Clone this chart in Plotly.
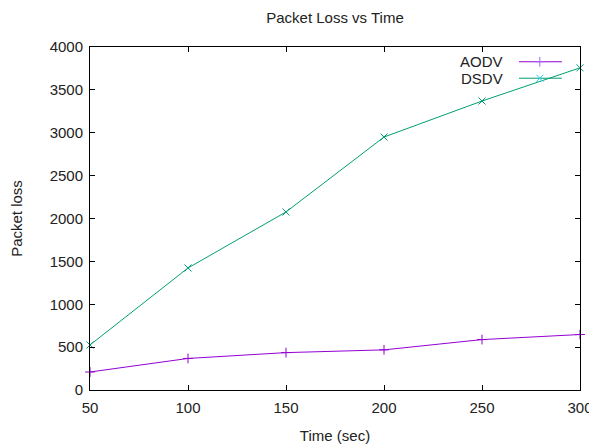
import plotly.graph_objects as go

time_sec = [50, 100, 150, 200, 250, 300]
aodv_loss = [210, 368, 436, 468, 588, 647]
dsdv_loss = [525, 1423, 2076, 2950, 3370, 3757]
x_ticks = [50, 100, 150, 200, 250, 300]
y_ticks = [0, 500, 1000, 1500, 2000, 2500, 3000, 3500, 4000]
series_names = ["AODV", "DSDV"]
series_colors = ["#9400d3", "#009e73"]
series_symbols = ["cross-thin-open", "x-thin-open"]

font = dict(family="Liberation Sans, Arial, sans-serif", size=15, color="#222")

fig = go.Figure()
for name, vals, col, sym in zip(series_names, [aodv_loss, dsdv_loss], series_colors, series_symbols):
    fig.add_trace(go.Scatter(
        x=time_sec, y=vals, mode="lines+markers", name=name,
        line=dict(color=col, width=1),
        marker=dict(symbol=sym, size=7, line=dict(color=col, width=1)),
        showlegend=False, cliponaxis=False,
    ))

# manual gnuplot-style key (text left, sample right) on an overlay axis
key_y = [0.957, 0.909]
for i, (name, col, sym) in enumerate(zip(series_names, series_colors, series_symbols)):
    fig.add_trace(go.Scatter(
        x=[0.8755, 0.963], y=[key_y[i]] * 2, mode="lines", xaxis="x2", yaxis="y2",
        line=dict(color=col, width=1), showlegend=False, hoverinfo="skip"))
    fig.add_trace(go.Scatter(
        x=[0.918], y=[key_y[i]], mode="markers", xaxis="x2", yaxis="y2",
        marker=dict(symbol=sym, size=7, line=dict(color=col, width=1)),
        showlegend=False, hoverinfo="skip"))
    fig.add_annotation(x=0.847, y=key_y[i], xref="x2 domain", yref="y2 domain",
                       text=name, showarrow=False, xanchor="right", yanchor="middle",
                       font=dict(family=font["family"], size=15, color="#222"))

axis_common = dict(showline=True, linecolor="black", linewidth=1, mirror="ticks",
                   ticks="inside", ticklen=5, tickcolor="black", showgrid=False,
                   zeroline=False, tickfont=font, automargin=False)

# page body has an 8px default margin, so margins are offset by 8px
fig.update_layout(
    width=597, height=444,
    margin=dict(l=82, r=25, t=39, b=62),
    paper_bgcolor="white", plot_bgcolor="white",
    font=font,
    title=dict(text="Packet Loss vs Time", x=(82 + 572) / 2 / 597, xanchor="center",
               y=0.977, yanchor="middle",
               font=dict(family=font["family"], size=15, color="#222")),
    xaxis=dict(range=[50, 300], tickvals=x_ticks, ticklabelstandoff=4,
               title=dict(text="Time (sec)", font=font, standoff=15), **axis_common),
    yaxis=dict(range=[0, 4000], tickvals=y_ticks, ticklabelstandoff=3,
               title=dict(text="Packet loss", font=font, standoff=33), **axis_common),
    xaxis2=dict(range=[0, 1], overlaying="x", visible=False, anchor="y2"),
    yaxis2=dict(range=[0, 1], overlaying="y", visible=False, anchor="x2"),
)

fig.write_html("out.html")
